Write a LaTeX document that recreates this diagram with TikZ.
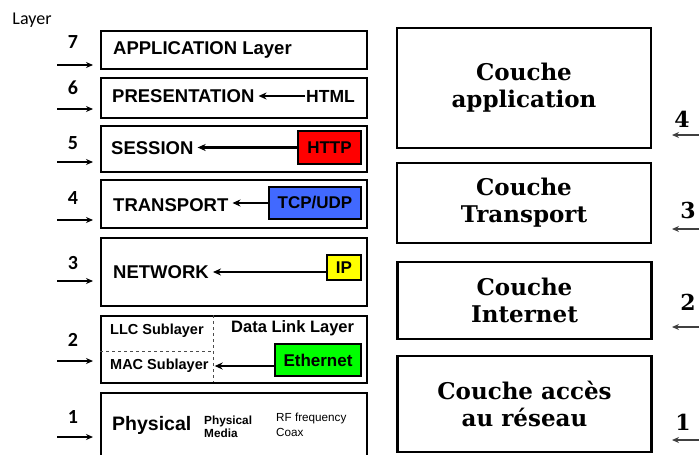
\documentclass[tikz,border=0pt]{standalone}
\usepackage{fontspec}
\setmainfont{Liberation Sans}
\newfontfamily\serifb{DejaVu Serif}
\newfontfamily\carl{Carlito}
\usetikzlibrary{arrows.meta}
\newcommand\myfs[1]{\fontsize{#1}{#1}\selectfont}
\definecolor{httpred}{RGB}{255,0,0}
\definecolor{tcpblue}{RGB}{65,105,255}
\definecolor{ipyellow}{RGB}{255,255,0}
\definecolor{ethgreen}{RGB}{0,255,0}
\begin{document}
\begin{tikzpicture}[x=1pt,y=-1pt,
  layerbox/.style={draw, line width=2.2pt, minimum width=266pt, anchor=north west, inner sep=0pt},
  lbl/.style={font=\bfseries\myfs{18.5}, inner sep=1pt, anchor=west},
  sublbl/.style={font=\bfseries\myfs{14.5}, inner sep=1pt, anchor=west},
  proto/.style={draw, line width=2pt, font=\bfseries\myfs{17}, inner sep=0pt},
  inarrow/.style={-{Stealth[length=8pt,width=7pt]}, line width=2.4pt},
  sidearrow/.style={-{Stealth[length=7pt,width=6pt]}, line width=1.6pt},
  rsidearrow/.style={-{Stealth[length=7pt,width=6pt]}, line width=1.6pt, black!75},
  num/.style={font=\carl\bfseries\myfs{20}},
  rnum/.style={font=\serifb\bfseries\myfs{22}},
  couche/.style={draw, line width=2.4pt, minimum width=254pt, font=\serifb\bfseries\myfs{23}, align=center}
]
\useasboundingbox (0,0) rectangle (699,455);
\clip (0,0) rectangle (699,455);

% title
\node[font=\carl\myfs{18}] (layer) at (32,20) {Layer};

% left layer boxes
\node[layerbox, minimum height=38pt] (L7) at (100,30) {};
\node[layerbox, minimum height=40pt] (L6) at (100,77) {};
\node[layerbox, minimum height=46pt] (L5) at (100,125) {};
\node[layerbox, minimum height=48pt] (L4) at (100,179) {};
\node[layerbox, minimum height=68pt] (L3) at (100,237) {};
\node[layerbox, minimum height=67pt] (L2) at (100,315) {};
\node[layerbox, minimum height=90pt] (L1) at (100,392) {};

% layer 7
\node[lbl] (app) at (112,50) {APPLICATION Layer};
% layer 6
\node[lbl] (pres) at (111,96) {PRESENTATION};
\node[font=\bfseries\myfs{17.5}, inner sep=1pt, anchor=west] (html) at (305,96) {HTML};
\draw[inarrow] (html.west) -- ([xshift=3pt]html.west -| pres.east);
% layer 5
\node[lbl] (sess) at (110,148) {SESSION};
\node[proto, fill=httpred, minimum width=63pt, minimum height=33pt] (http) at (329.5,147.5) {HTTP};
\draw[inarrow] (http.west) -- ([xshift=3pt]http.west -| sess.east);
% layer 4
\node[lbl] (trans) at (112,205) {TRANSPORT};
\node[proto, fill=tcpblue, minimum width=92pt, minimum height=32pt] (tcp) at (315,203) {TCP/UDP};
\draw[inarrow] (tcp.west) -- ([xshift=3pt]tcp.west -| trans.east);
% layer 3
\node[lbl] (net) at (112,272) {NETWORK};
\node[proto, fill=ipyellow, minimum width=34pt, minimum height=25pt] (ip) at (344,267.5) {IP};
\draw[inarrow] (ip.west |- net.east) -- ([xshift=3pt]net.east);
% layer 2
\draw[dashed, line width=0.8pt, black!70] (213,315) -- (213,382);
\draw[dashed, line width=0.8pt, black!70] (100,351) -- (213,351);
\node[sublbl] (llc) at (109,331) {LLC Sublayer};
\node[font=\bfseries\myfs{16.5}, inner sep=1pt, anchor=west] (dll) at (230,328) {Data Link Layer};
\node[sublbl] (mac) at (109,366) {MAC Sublayer};
\node[proto, fill=ethgreen, minimum width=86pt, minimum height=32pt] (eth) at (318,360) {Ethernet};
\draw[inarrow] (eth.west |- mac.east) -- ([xshift=5pt]mac.east);
% layer 1
\node[font=\bfseries\myfs{19.5}, inner sep=1pt, anchor=west] (phys) at (111,425) {Physical};
\node[font=\bfseries\myfs{11.8}, inner sep=0pt, anchor=west, align=left] (media) at (204,427) {Physical\\[1pt]Media};
\node[font=\myfs{11.7}, inner sep=0pt, anchor=west, align=left] (rf) at (276,425) {RF frequency\\[3pt]Coax};

% left numbers and arrows
\foreach \n/\ny/\ay in {7/42/65, 6/88/109, 5/143/162, 4/198/220, 3/263/281, 2/340/361, 1/417/437}{
  \node[num] (n\n) at (73,\ny) {\n};
  \coordinate (s\n) at (57,\ay);
  \coordinate (e\n) at (93,\ay);
  \draw[sidearrow] (s\n) -- (e\n);
}

% right boxes
\node[couche, minimum height=120pt] (A) at (524,88) {Couche\\[4pt]application};
\node[couche, minimum height=80pt] (B) at (524,203) {Couche\\[4pt]Transport};
\node[couche, minimum height=77pt] (C) at (524.5,300.5) {Couche\\[4pt]Internet};
\node[couche, minimum height=96pt] (D) at (524.5,404) {Couche accès\\[4pt]au réseau};

% right numbers and arrows
\foreach \n/\nx/\ny/\ay in {4/682/119/135, 3/688/210/229, 2/688/302/327, 1/683/422/440}{
  \node[rnum] (r\n) at (\nx,\ny) {\n};
  \coordinate (rs\n) at (702,\ay);
  \coordinate (re\n) at (672,\ay);
  \draw[rsidearrow] (rs\n) -- (re\n);
}
\end{tikzpicture}
\end{document}
